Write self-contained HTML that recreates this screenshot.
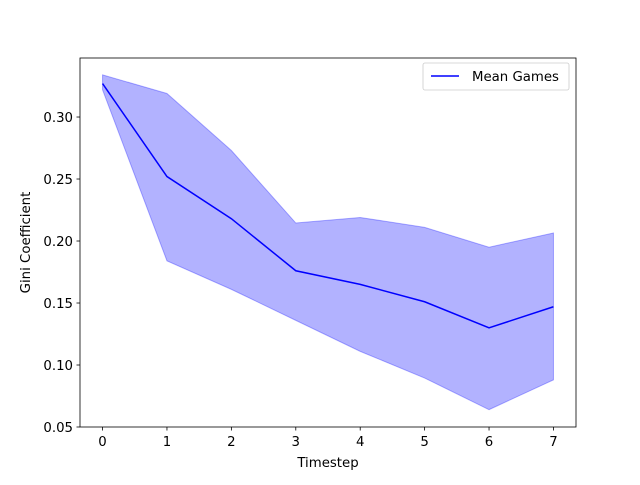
<!DOCTYPE html>
<html><head><meta charset="utf-8"><style>
body{margin:0;background:#fff;}
text{font-family:"DejaVu Sans","Liberation Sans",sans-serif;fill:#000;}
</style></head><body>
<svg id="chart" width="640" height="480" viewBox="0 0 640 480">
<rect width="640" height="480" fill="#fff"/>
<g id="plot"></g>
</svg>
<script>
const categories=[0,1,2,3,4,5,6,7];
const meanValues=[0.327,0.252,0.218,0.176,0.165,0.151,0.130,0.147];
const upperValues=[0.334,0.319,0.273,0.2145,0.219,0.211,0.195,0.2065];
const lowerValues=[0.322,0.184,0.161,0.136,0.111,0.0895,0.064,0.088];
const xTicks=[0,1,2,3,4,5,6,7];
const yTicks=[0.05,0.10,0.15,0.20,0.25,0.30];

const L=80,R=576,T=58,B=427;
const xMin=-0.35,xMax=7.35,yMin=0.05,yMax=0.3476;
const FS=13.3;
function xs(v){return L+(v-xMin)/(xMax-xMin)*(R-L);}
function ys(v){return B-(v-yMin)/(yMax-yMin)*(B-T);}
const NS="http://www.w3.org/2000/svg";
const g=document.getElementById('plot');
function mk(tag,attrs,parent){const e=document.createElementNS(NS,tag);for(const k in attrs)e.setAttribute(k,attrs[k]);(parent||g).appendChild(e);return e;}

let pts=categories.map((c,i)=>xs(c)+','+ys(upperValues[i]));
for(let i=categories.length-1;i>=0;i--)pts.push(xs(categories[i])+','+ys(lowerValues[i]));
const band=mk('polygon',{points:pts.join(' '),fill:'rgba(0,0,255,0.3)',stroke:'rgba(0,0,255,0.3)','stroke-width':1});



const line=mk('polyline',{points:categories.map((c,i)=>xs(c)+','+ys(meanValues[i])).join(' '),fill:'none',stroke:'#0000ff','stroke-width':1.5});



const frame=mk('rect',{x:L,y:T,width:R-L,height:B-T,fill:'none',stroke:'#000','stroke-width':0.8});



xTicks.forEach(t=>{
 const x=xs(t);
 const tk=mk('line',{x1:x,x2:x,y1:B,y2:B+3.5,stroke:'#000','stroke-width':0.8});
 
 
 const tx=mk('text',{x:x,y:B+19,'text-anchor':'middle','font-size':FS});
 tx.textContent=t;
 
 
});
yTicks.forEach(t=>{
 const y=ys(t);
 const tk=mk('line',{x1:L-3.5,x2:L,y1:y,y2:y,stroke:'#000','stroke-width':0.8});
 
 
 const tx=mk('text',{x:L-7,y:y+5,'text-anchor':'end','font-size':FS});
 tx.textContent=t.toFixed(2);
 
 
});
const xt=mk('text',{x:(L+R)/2,y:467,'text-anchor':'middle','font-size':FS});
xt.textContent='Timestep';


const yt=mk('text',{x:0,y:0,'text-anchor':'middle','font-size':FS,transform:'translate(30,'+((T+B)/2)+') rotate(-90)'});
yt.textContent='Gini Coefficient';



const lg=mk('g',{});


mk('rect',{x:423,y:63,width:146,height:27,rx:2,fill:'#fff','fill-opacity':0.8,stroke:'#ccc','stroke-width':0.8},lg);
const ll=mk('line',{x1:431,x2:459,y1:76,y2:76,stroke:'#0000ff','stroke-width':1.5},lg);


const lt=mk('text',{x:472,y:81,'font-size':FS},lg);
lt.textContent='Mean Games';


</script>
</body></html>
